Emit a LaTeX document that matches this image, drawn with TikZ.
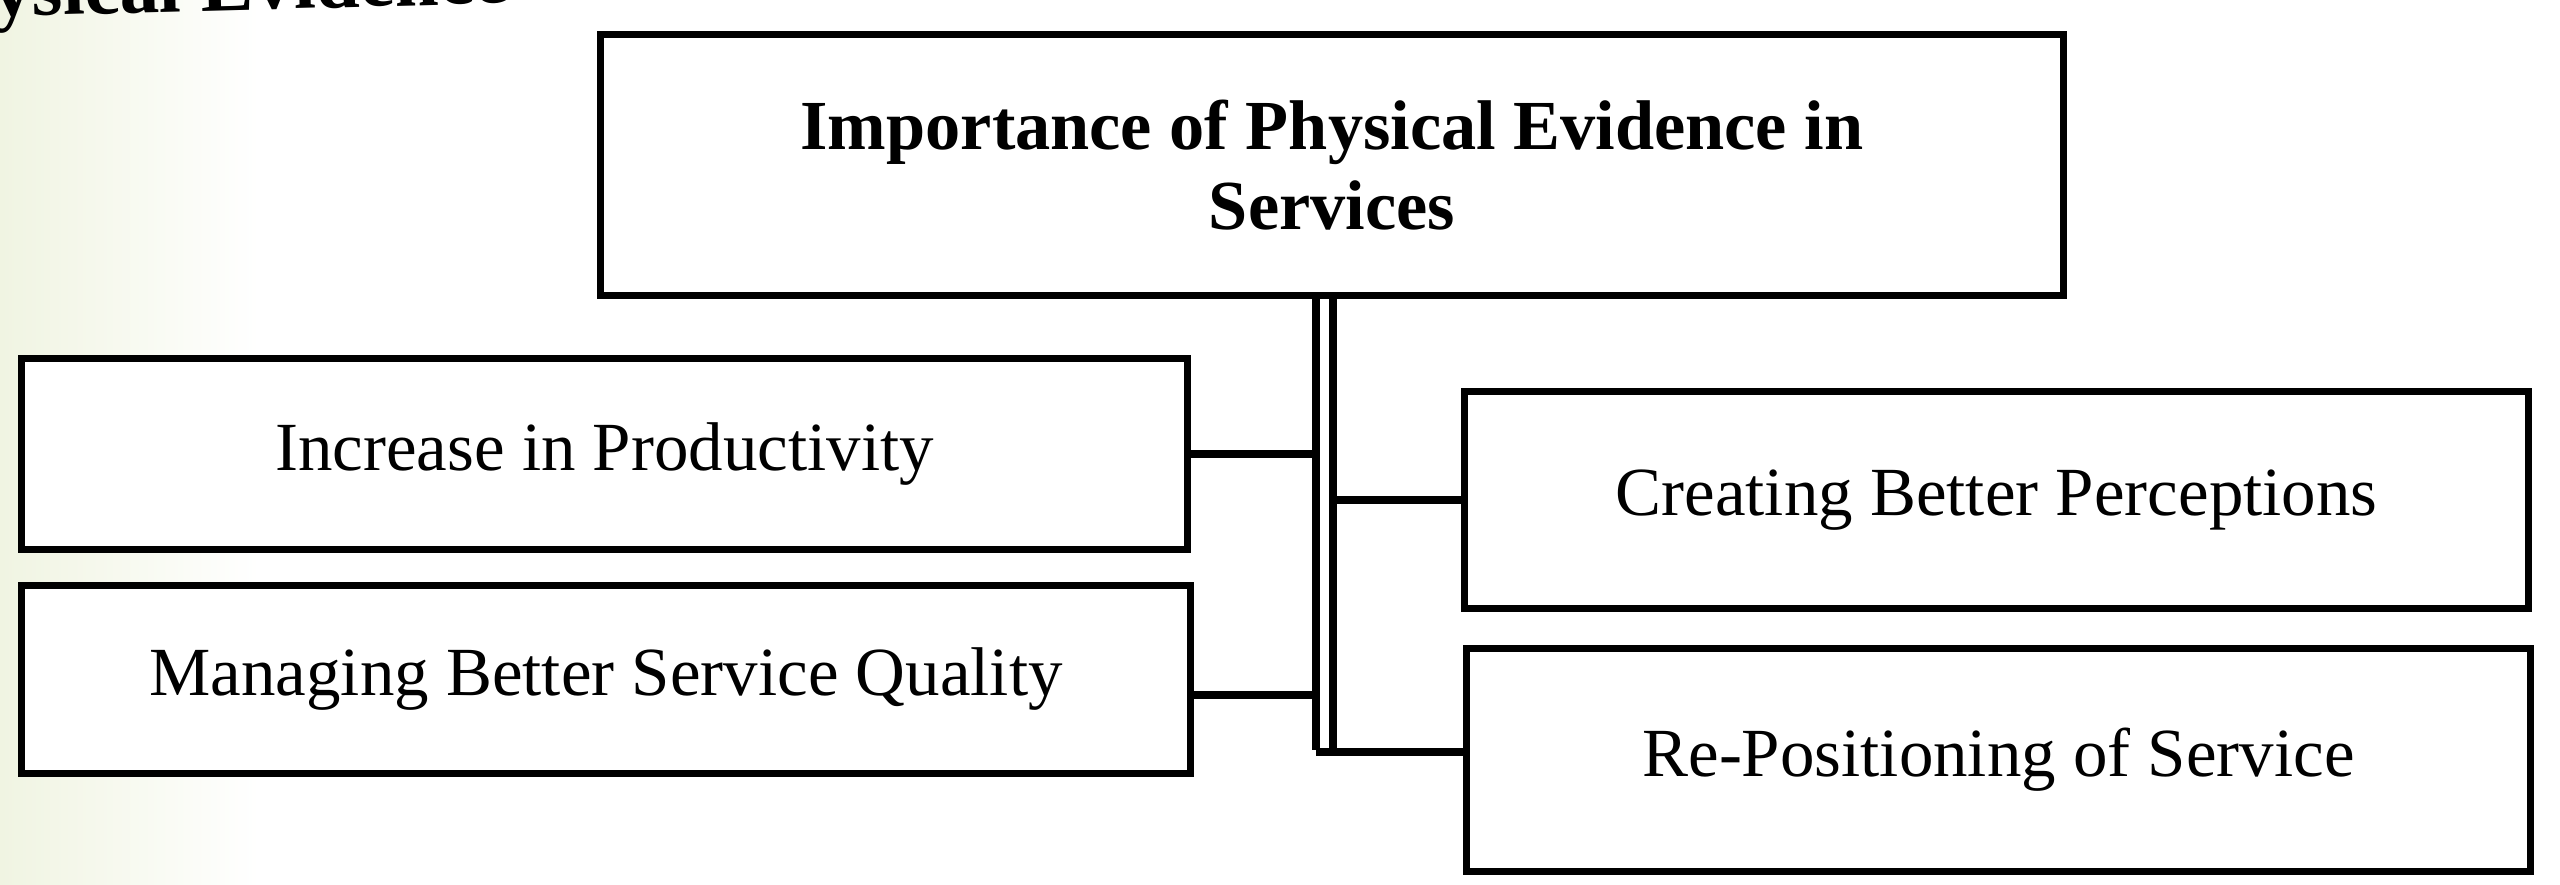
\documentclass[tikz,border=0pt]{standalone}
\usepackage{fontspec}
\setmainfont{Liberation Serif}
\definecolor{paper}{RGB}{240,244,226}
\begin{document}
\begin{tikzpicture}[x=0.01cm, y=-0.01cm,
  box/.style={draw=black, line width=2pt, rectangle, inner sep=0pt, align=center,
    fill=white, font=\fontsize{19.6}{22.2}\selectfont},
  topbox/.style={box, font=\fontsize{20}{22.6}\selectfont\bfseries},
  link/.style={draw=black, line width=2pt},
  headtxt/.style={font=\fontsize{22.5}{26}\selectfont\bfseries, inner sep=0pt}
]
\useasboundingbox (0,0) rectangle (2560,885);
\fill[white] (0,0) rectangle (2560,885);
\shade[left color=paper, right color=white] (0,0) rectangle (260,885);

% clipped heading of the page above the figure
\begin{scope}
  \clip (0,0) rectangle (2560,885);
  \node[headtxt, anchor=base west, rotate=1.5] (head) at (-100,19) {Physical Evidence};
\end{scope}

% boxes
\node[topbox, minimum width=14.62cm, minimum height=2.60cm] (top) at (1332,165)
  {Importance of Physical Evidence in\\Services};
\node[box, minimum width=11.65cm, minimum height=1.90cm] (L1) at (604.5,454) {Increase in Productivity};
\node[box, minimum width=11.68cm, minimum height=1.87cm] (L2) at (606,679.5) {Managing Better Service Quality};
\node[box, minimum width=10.63cm, minimum height=2.16cm] (R1) at (1996.5,500) {Creating Better Perceptions};
\node[box, minimum width=10.63cm, minimum height=2.22cm] (R2) at (1998.5,760) {Re-Positioning of Service};

% trunk (double line)
\coordinate (vL) at (1316,295);
\coordinate (vR) at (1333,295);
\coordinate (vLb) at (1316,750);
\coordinate (vRb) at (1333,752);
\coordinate (l2y) at (0,695);
\coordinate (r2y) at (0,752);

\draw[link] (vL |- top.south) -- (vLb);
\draw[link] (vR |- top.south) -- (vRb);

% branches
\draw[link] (L1.east) -- (L1.east -| vL);
\draw[link] (L2.east |- l2y) -- (vL |- l2y);
\draw[link] (R1.west) -- (R1.west -| vR);
\draw[link] (vLb |- r2y) -- (R2.west |- r2y);
\end{tikzpicture}
\end{document}
